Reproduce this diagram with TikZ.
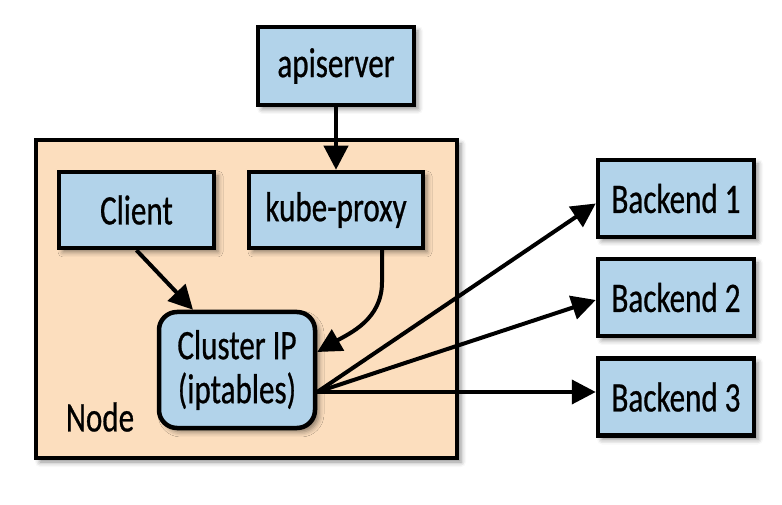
\documentclass[tikz,border=0pt]{standalone}
\usepackage{fontspec}
\setmainfont{Carlito}[FakeStretch=0.74, FakeBold=0.6]
\usetikzlibrary{arrows.meta,shadows.blur}
\definecolor{boxblue}{RGB}{178,211,234}
\definecolor{nodepeach}{RGB}{252,222,190}
\begin{document}
\begin{tikzpicture}[x=1pt, y=1pt,
    shade/.style={blur shadow={shadow xshift=4pt, shadow yshift=-4pt, shadow blur radius=5pt, shadow opacity=45}},
    comp/.style={rectangle, draw=black, line width=4.5pt, fill=boxblue, shade, inner sep=0pt, font=\fontsize{42}{44}\selectfont},
    arr/.style={line width=4pt, -{Triangle[length=24pt, width=24pt]}}]

        \useasboundingbox (0,0) rectangle (782,504);

        \node[rectangle, draw=black, line width=4.5pt, fill=nodepeach, shade, minimum width=421pt, minimum height=318pt] (nodebox) at (246.5,205) {};
        \node[inner sep=0pt, font=\fontsize{42}{44}\selectfont] (nodelabel) at (100,87) {Node};

        \node[comp, minimum width=156pt, minimum height=78pt] (apiserver) at (336,438) {apiserver};
        \node[comp, minimum width=155pt, minimum height=76pt] (client) at (136.5,294) {Client};
        \node[comp, minimum width=174pt, minimum height=76pt] (kube) at (336,294) {kube-proxy};
        \node[comp, rounded corners=18pt, minimum width=156pt, minimum height=116pt, align=center] (cluster) at (237,134) {Cluster IP\\(iptables)};

        \node[comp, minimum width=156pt, minimum height=77pt] (back1) at (676,305.5) {Backend 1};
        \node[comp, minimum width=156pt, minimum height=77pt] (back2) at (676,206.5) {Backend 2};
        \node[comp, minimum width=156pt, minimum height=77pt] (back3) at (676,107) {Backend 3};

        \coordinate (fan) at ([yshift=-22pt]cluster.east);

        \draw[arr] (apiserver.south) -- (kube.north);
        \draw[arr] (client.south) -- ([xshift=-44pt]cluster.north);
        \draw[arr] ([xshift=46pt]kube.south) -- ++(0,-32) to[out=-90, in=30] ([yshift=18pt]cluster.east);

        \draw[arr] (fan) -- ([yshift=-5pt]back1.west);
        \draw[arr] (fan) -- ([yshift=-2.5pt]back2.west);
        \draw[arr] (fan) -- (fan -| back3.west);
    \end{tikzpicture}
\end{document}
